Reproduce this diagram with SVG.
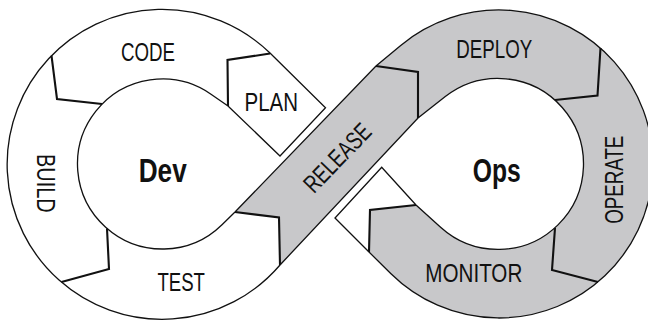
<svg xmlns="http://www.w3.org/2000/svg" width="648" height="320" viewBox="0 0 648 320">
  <style>
    .lbl { font-family: 'Liberation Sans Narrow', 'Liberation Sans', Arial, sans-serif; font-size: 25px; fill: #111; text-anchor: middle; }
    .hub { font-family: 'Liberation Sans Narrow', 'Liberation Sans', Arial, sans-serif; font-size: 32.5px; font-weight: bold; fill: #111; text-anchor: middle; }
    .edge { fill: none; stroke: #111; stroke-width: 1.3; stroke-linejoin: miter; }
    .div { fill: none; stroke: #111; stroke-width: 2.1; stroke-linejoin: miter; }
    .ops-fill { fill: #c8c8ca; }
  </style>

  <rect width="648" height="320" fill="#fff"/>

  <!-- infinity band: grey over-strand (release) plus the ops loop, then the full outline -->
  <g id="band">
    <path class="ops-fill" d="M 235,212 L 279,218 L 280,265 L 418,118 L 445.3,96.6 A 85.5 85.5 0 1 1 440.6,227.3 L 416,205 L 370,210 L 369,252 L 390.7,273.5 A 154 154 0 1 0 400.7,45.4 L 376,66 Z"/>
    <path class="edge" d="M 335,218 L 369,252 L 390.7,273.5 A 154 154 0 1 0 400.7,45.4 L 376,66 L 235,212 L 222,224.7 A 85 85 0 1 1 211,94.2 L 228,106 L 280,156 L 325.5,107.8 L 270,53 A 155 155 0 1 0 280,265 L 418,118 L 445.3,96.6 A 85.5 85.5 0 1 1 440.6,227.3 L 416,205 L 381.7,167.3 Z"/>
  </g>

  <!-- chevron boundaries between stages -->
  <g id="connectors">
    <polyline class="div" points="270,53.5 227.5,60 228,106"/>
    <polyline class="div" points="51.5,55.7 57,99 102,104"/>
    <polyline class="div" points="61.5,282 109,269 107,228.5"/>
    <polyline class="div" points="235,212 279,217.5 280,265"/>
    <polyline class="div" points="376,66 418,72 418,118"/>
    <polyline class="div" points="600.5,48 597.5,95.5 555,100"/>
    <polyline class="div" points="555,228 552,270 598,282"/>
    <polyline class="div" points="416,205 370,210 369,252"/>
  </g>

  <g id="plan"><text class="lbl" x="271.3" y="111" textLength="53.5" lengthAdjust="spacingAndGlyphs">PLAN</text></g>
  <g id="code"><text class="lbl" x="148" y="61" textLength="54" lengthAdjust="spacingAndGlyphs">CODE</text></g>
  <g id="build"><text class="lbl" transform="translate(36.7,183.3) rotate(90)" x="0" y="0" textLength="58.5" lengthAdjust="spacingAndGlyphs">BUILD</text></g>
  <g id="test"><text class="lbl" x="181.2" y="290.7" textLength="47.5" lengthAdjust="spacingAndGlyphs">TEST</text></g>
  <g id="release"><text class="lbl" transform="translate(343.5,163.8) rotate(-46)" x="0" y="0" textLength="85" lengthAdjust="spacingAndGlyphs">RELEASE</text></g>
  <g id="deploy"><text class="lbl" x="494.3" y="58.3" textLength="76" lengthAdjust="spacingAndGlyphs">DEPLOY</text></g>
  <g id="operate"><text class="lbl" transform="translate(623,179.7) rotate(-90)" x="0" y="0" textLength="88" lengthAdjust="spacingAndGlyphs">OPERATE</text></g>
  <g id="monitor"><text class="lbl" x="473.8" y="282.3" textLength="97" lengthAdjust="spacingAndGlyphs">MONITOR</text></g>

  <g id="dev"><text class="hub" x="162.7" y="181.7" textLength="48" lengthAdjust="spacingAndGlyphs">Dev</text></g>
  <g id="ops"><text class="hub" x="496.7" y="181.7" textLength="48" lengthAdjust="spacingAndGlyphs">Ops</text></g>
</svg>
